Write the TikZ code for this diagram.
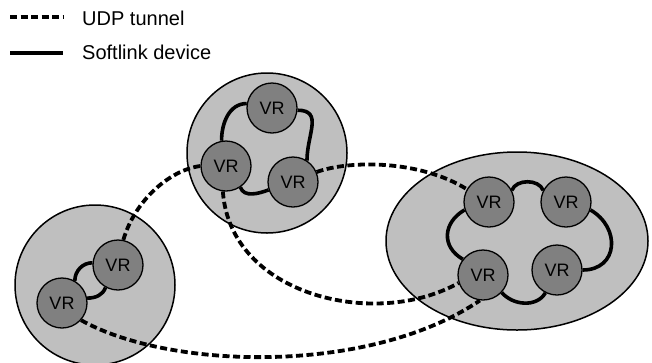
\documentclass[tikz,border=0pt]{standalone}
\usepackage{fontspec}
\setmainfont{Liberation Sans}
\usetikzlibrary{shapes.geometric}

\definecolor{sitegray}{gray}{0.75}
\definecolor{vrgray}{gray}{0.5}

\begin{document}
\begin{tikzpicture}[
    x=1pt, y=-1pt,
    site/.style     = {draw, line width=1.5pt, fill=sitegray, inner sep=0pt},
    vr/.style       = {
      draw, line width=1.3pt,
      circle, fill=vrgray,
      minimum size=50pt, inner sep=0pt,
      font=\fontsize{18}{21}\selectfont
    },
    softlink/.style = {line width=3.6pt},
    tunnel/.style   = {line width=3.8pt, dash pattern=on 7pt off 3.5pt},
    legend/.style   = {anchor=base west, inner sep=2pt, font=\fontsize{20}{24}\selectfont}
  ]

    \useasboundingbox (0,0) rectangle (652,362);

    % Legend
    \coordinate (udpA) at (10,17);
    \coordinate (udpB) at (63,17);
    \draw[tunnel] (udpA) -- (udpB);
    \node[legend] (udpText) at (80,25) {UDP tunnel};

    \coordinate (slA) at (10,53);
    \coordinate (slB) at (63,53);
    \draw[softlink] (slA) -- (slB);
    \node[legend] (slText) at (80,59) {Softlink device};

    % Sites
    \node[site, circle, minimum size=160pt] (siteT) at (267,153) {};
    \node[site, circle, minimum size=160pt] (siteL) at (95,285) {};
    \node[site, ellipse, minimum width=262pt, minimum height=178pt]
      (siteR) at (517,241) {};

    % Virtual routers
    \node[vr] (t1) at (272,108) {VR};
    \node[vr] (t2) at (226,166) {VR};
    \node[vr] (t3) at (293,182) {VR};

    \node[vr] (l1) at (118,265) {VR};
    \node[vr] (l2) at (62,303)  {VR};

    \node[vr] (r1) at (489,202) {VR};
    \node[vr] (r2) at (566,202) {VR};
    \node[vr] (r3) at (483,275) {VR};
    \node[vr] (r4) at (557,270) {VR};

    % Softlink devices
    \draw[softlink] (t1.170) to[out=180, in=90] (t2.100);
    \draw[softlink] (t1.-5)  to[out=0, in=90, looseness=1.3] (t3.57);
    \draw[softlink] (t2.-56) to[out=-70, in=200] (t3.198);

    \draw[softlink] (l1.175) to[out=180, in=90] (l2.60);
    \draw[softlink] (l1.241) to[out=250, in=0] (l2.11);

    \draw[softlink] (r1.27)  to[out=70, in=110] (r2.153);
    \draw[softlink] (r1.198) to[out=210, in=150, looseness=1.3] (r3.142);
    \draw[softlink] (r2.-18) to[out=-30, in=0, looseness=1.5] (r4.0);
    \draw[softlink] (r3.-43) to[out=-50, in=-120] (r4.243);

    % UDP tunnels
    \draw[tunnel] (l1.78)  .. controls (135,200) and (170,170) .. (t2.180);
    \draw[tunnel] (t2.263) .. controls (230,295) and (375,330) .. (r3.198);
    \draw[tunnel] (t3.23)  .. controls (350,160) and (420,160) .. (r1.150);
    \draw[tunnel] (l2.-42) .. controls (170,370) and (370,375) .. (r3.263);

  \end{tikzpicture}
\end{document}
